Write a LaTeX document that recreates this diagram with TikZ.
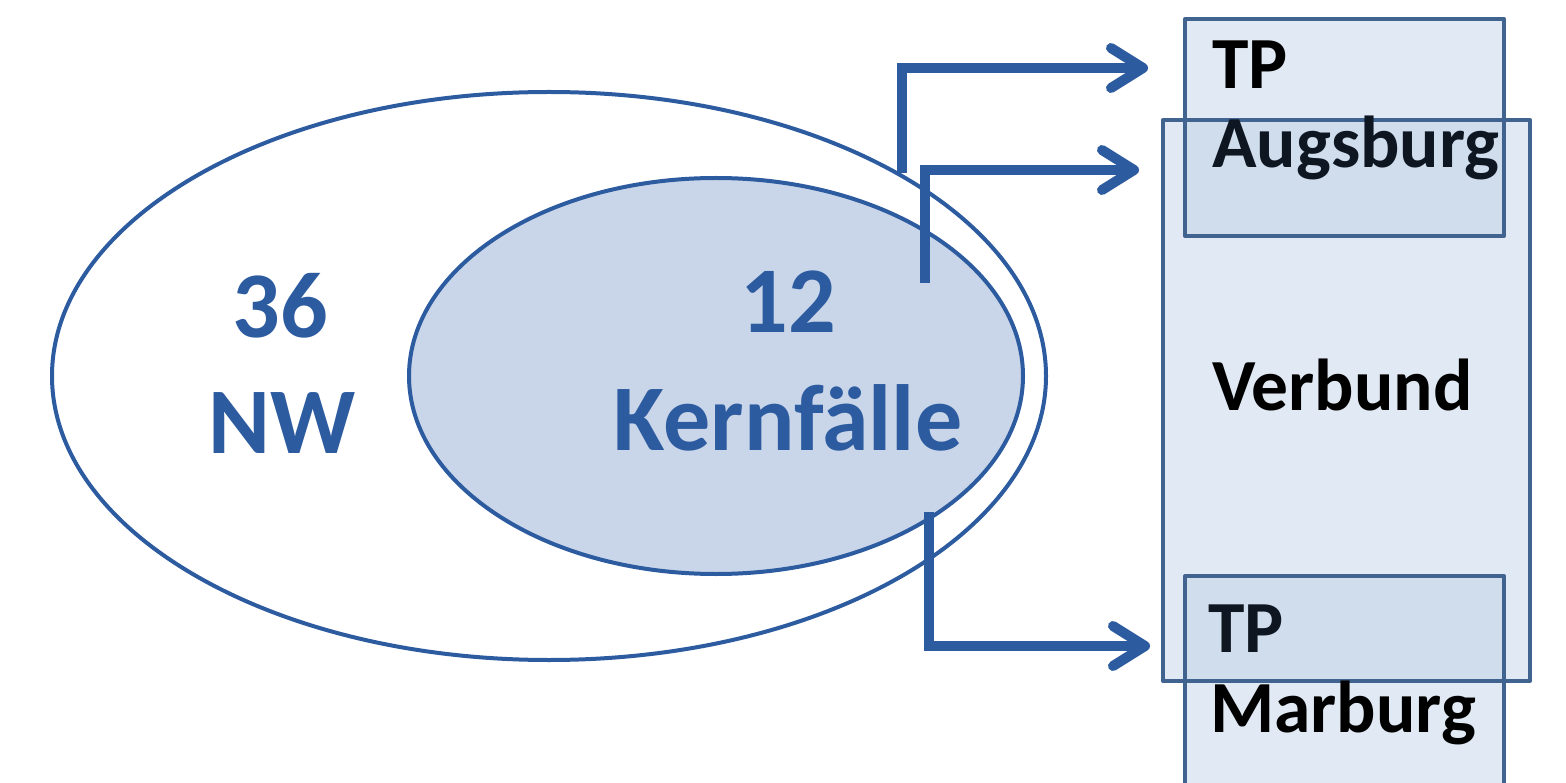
\documentclass[tikz,border=0pt]{standalone}
\usepackage{fontspec}
\setmainfont{Carlito}
\usetikzlibrary{arrows.meta,shapes.geometric}
\definecolor{nwblue}{HTML}{2C5BA0}
\definecolor{corefill}{HTML}{C9D5E8}
\definecolor{boxline}{HTML}{40648F}
\definecolor{boxfill}{HTML}{B9CDE5}
\definecolor{darkink}{HTML}{0E1621}

\tikzset{
  setring/.style={ellipse, draw=nwblue, line width=4pt, inner sep=0pt},
  tpbox/.style={rectangle, fill=boxfill, fill opacity=0.42, inner sep=0pt, outer sep=0pt},
  boxedge/.style={draw=boxline, line width=4pt, line join=round},
  flow/.style={draw=nwblue, line width=10pt, line join=miter,
    -{Straight Barb[length=32pt,width=40pt,round]}},
  bignum/.style={inner sep=0pt, anchor=base, text=nwblue, font=\fontsize{94}{110}\selectfont\bfseries},
  boxlabel/.style={inner sep=0pt, anchor=base west, font=\fontsize{73.5}{80}\selectfont\bfseries}
}

\begin{document}
\begin{tikzpicture}[x=1pt,y=-1pt]
\useasboundingbox (0,0) rectangle (1566,783);
\fill[white] (0,0) rectangle (1566,783);

% the two nested sets
\node[setring, fill=white, minimum width=994pt, minimum height=568pt] (outer) at (549,376) {};
\node[setring, fill=corefill, minimum width=614pt, minimum height=396pt] (core) at (716,376) {};

\node[bignum] (n36) at (280,338) {36};
\node[bignum] (nNW) at (282,453) {NW};
\node[bignum] (n12) at (788,333) {12};
\node[bignum] (nKern) at (788,450) {Kernfälle};

% sub-project and joint-project boxes: translucent fills first, outlines on top
\node[tpbox, minimum width=319pt, minimum height=217pt] (augsburg) at (1344.5,127.5) {};
\node[tpbox, minimum width=319pt, minimum height=226pt] (marburg) at (1344.5,689) {};
\node[tpbox, minimum width=367pt, minimum height=561pt] (verbund) at (1346.5,400.5) {};
\draw[boxedge] (augsburg.north west) rectangle (augsburg.south east);
\draw[boxedge] (marburg.north west) rectangle (marburg.south east);
\draw[boxedge] (verbund.north west) rectangle (verbund.south east);

\node[boxlabel] (tpA) at (1212,89) {TP};
\node[boxlabel, text=darkink] (augText) at (1212,168) {Augsburg};
\node[boxlabel] (verText) at (1212,410) {Verbund};
\node[boxlabel, text=darkink] (tpM) at (1208,652) {TP};
\node[boxlabel] (marText) at (1210,732) {Marburg};

% connectors from the case sets to the projects
\coordinate (a1s) at (902,173);
\coordinate (a1e) at (1148,68);
\coordinate (a2s) at (925,283);
\coordinate (a2e) at (1139,170);
\coordinate (a3s) at (929,512);
\coordinate (a3e) at (1150,646);
\draw[flow] (a1s) |- (a1e);
\draw[flow] (a2s) |- (a2e);
\draw[flow] (a3s) |- (a3e);
\end{tikzpicture}
\end{document}
